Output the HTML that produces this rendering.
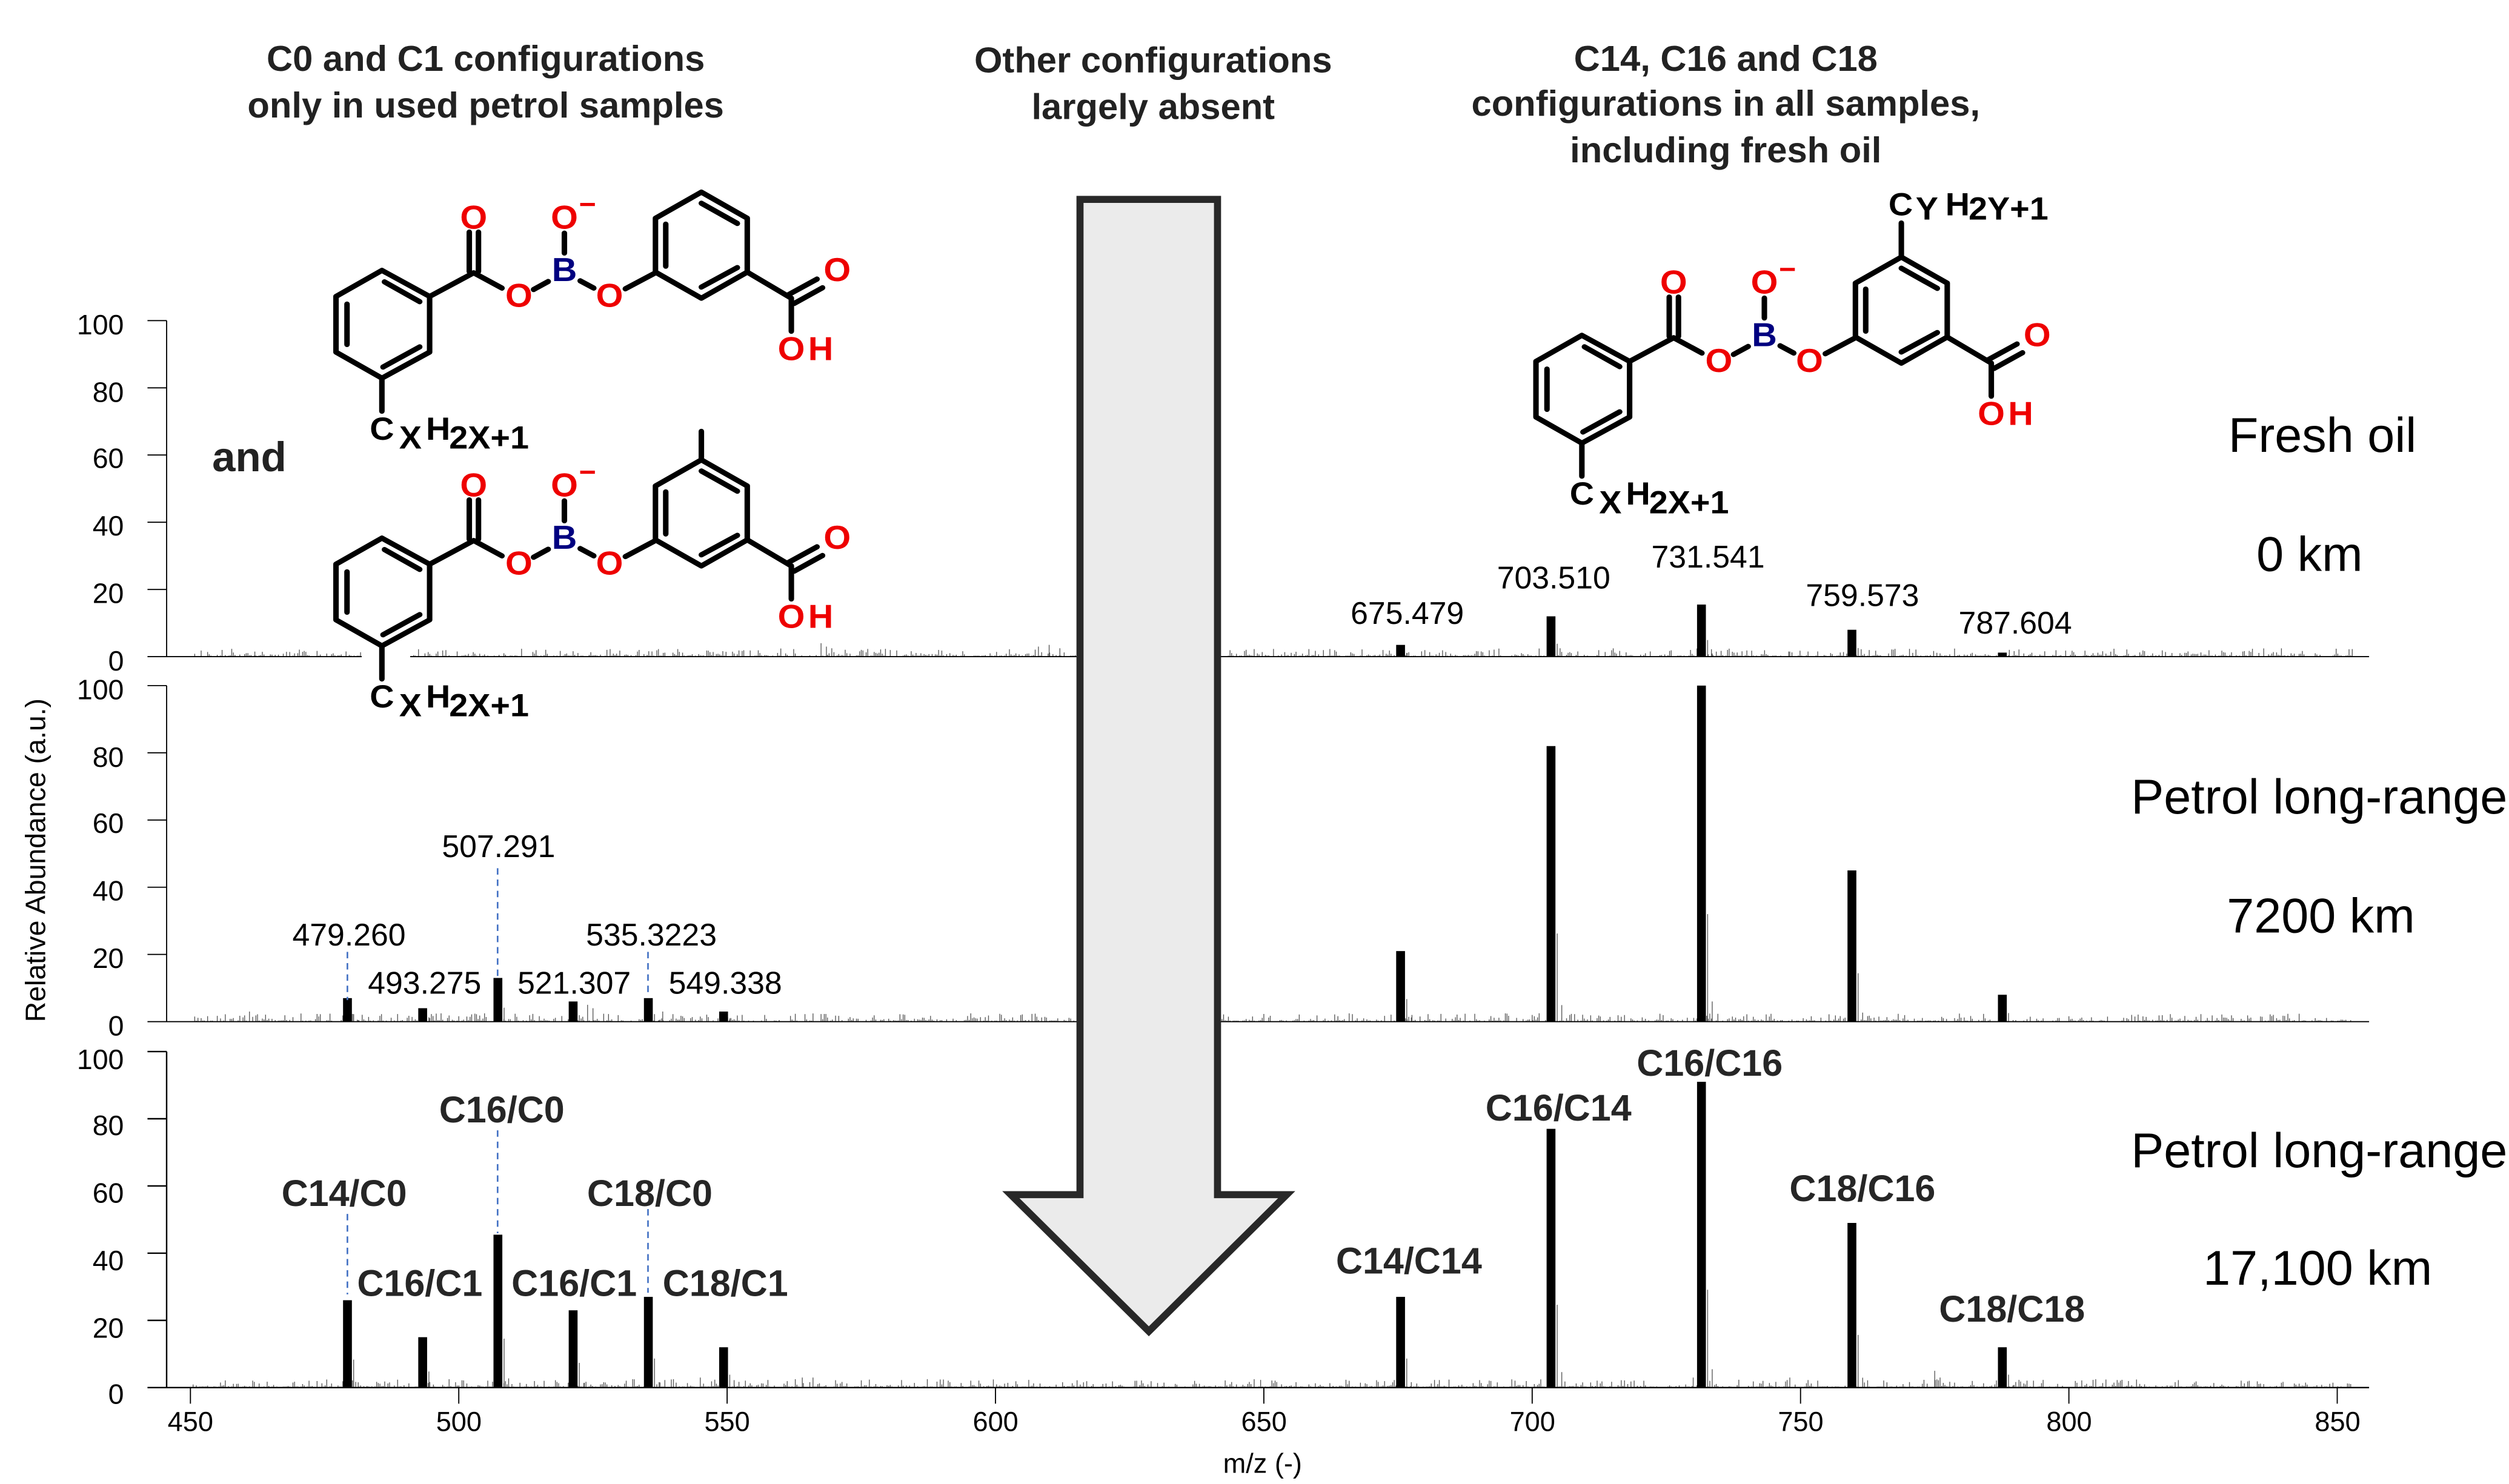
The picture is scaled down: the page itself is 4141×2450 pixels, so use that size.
<!DOCTYPE html>
<html><head><meta charset="utf-8"><style>
html,body{margin:0;padding:0;background:#fff;}
svg{display:block;}
text{font-family:"Liberation Sans",Arial,sans-serif;}
</style></head><body>
<svg id="s" xmlns="http://www.w3.org/2000/svg" width="4141" height="2450" viewBox="0 0 4141 2450">
<rect width="4141" height="2450" fill="#fff"/>
<g id="d" transform="scale(2.6545)">
  <g font-weight="bold" font-size="22.5" fill="#222" text-anchor="middle">
    <text x="302" y="44">C0 and C1 configurations</text>
    <text x="302" y="73">only in used petrol samples</text>
    <text x="717" y="45">Other configurations</text>
    <text x="717" y="74">largely absent</text>
    <text x="1073" y="44">C14, C16 and C18</text>
    <text x="1073" y="72">configurations in all samples,</text>
    <text x="1073" y="101">including fresh oil</text>
  </g>
  <text x="155" y="293" font-weight="bold" font-size="26" fill="#222" text-anchor="middle">and</text>
  <g font-size="17.5" fill="#000" text-anchor="end">
    <text x="77" y="208">100</text><text x="77" y="250">80</text><text x="77" y="291">60</text><text x="77" y="333">40</text><text x="77" y="375">20</text><text x="77" y="417">0</text>
    <text x="77" y="435">100</text><text x="77" y="477">80</text><text x="77" y="518">60</text><text x="77" y="560">40</text><text x="77" y="602">20</text><text x="77" y="644">0</text>
    <text x="77" y="665">100</text><text x="77" y="706">80</text><text x="77" y="748">60</text><text x="77" y="790">40</text><text x="77" y="832">20</text><text x="77" y="873">0</text>
  </g>
  <text transform="translate(28,535) rotate(-90)" font-size="17.5" text-anchor="middle" fill="#000">Relative Abundance (a.u.)</text>
  <g font-size="17" fill="#000" text-anchor="middle">
    <text x="118.4" y="890">450</text><text x="285.3" y="890">500</text><text x="452.1" y="890">550</text><text x="619" y="890">600</text><text x="785.9" y="890">650</text><text x="952.8" y="890">700</text><text x="1119.6" y="890">750</text><text x="1286.5" y="890">800</text><text x="1453.4" y="890">850</text>
    <text x="785" y="916">m/z (-)</text>
  </g>
  <g id="plot"></g>
  <path d="M671.5,124 L757,124 L757,743 L800,743 L714.3,828 L628.5,743 L671.5,743 Z" fill="#ebebeb" stroke="#282828" stroke-width="4.4" stroke-linejoin="miter"/>
  <g stroke="#4472c4" stroke-width="1" stroke-dasharray="4,3" fill="none">
    <path d="M216,592 V622 M309.4,540 V608 M402.9,592 V620"/>
    <path d="M216,755 V805 M309.4,703 V767 M402.9,752 V804"/>
  </g>
  <g font-size="19.5" fill="#000" text-anchor="middle">
    <text x="875" y="388">675.479</text><text x="966" y="366">703.510</text><text x="1062" y="353">731.541</text><text x="1158" y="377">759.573</text><text x="1253" y="394">787.604</text>
    <text x="217" y="588">479.260</text><text x="264" y="618">493.275</text><text x="310" y="533">507.291</text><text x="357" y="618">521.307</text><text x="405" y="588">535.3223</text><text x="451" y="618">549.338</text>
  </g>
  <g font-size="23" font-weight="bold" fill="#262626" text-anchor="middle">
    <text x="214" y="750">C14/C0</text><text x="312" y="698">C16/C0</text><text x="404" y="750">C18/C0</text>
    <text x="261" y="806">C16/C1</text><text x="357" y="806">C16/C1</text><text x="451" y="806">C18/C1</text>
    <text x="876" y="792">C14/C14</text><text x="969" y="697">C16/C14</text><text x="1063" y="669">C16/C16</text><text x="1158" y="747">C18/C16</text><text x="1251" y="822">C18/C18</text>
  </g>
  <g font-size="30.5" fill="#000" text-anchor="middle">
    <text x="1444" y="281">Fresh oil</text><text x="1436" y="355">0 km</text>
    <text x="1442" y="506">Petrol long-range</text><text x="1443" y="580">7200 km</text>
    <text x="1442" y="726">Petrol long-range</text><text x="1441" y="799">17,100 km</text>
  </g>
</g>
<rect x="597" y="1062" width="80" height="34" fill="#fff"/>
<g transform="translate(500,300) scale(0.60606,0.57405)" stroke-linecap="round" stroke-linejoin="round">
  <g>
    <path fill="none" stroke="#000" stroke-width="15" d="M215,255 L345,330 L345,490 L215,565 L90,490 L90,330 Z M222,288 L318,345 M218,533 L318,475 M120,352 L120,468 M215,565 L215,660 M345,330 L465,262 M453,258 L453,145 M478,258 L478,145 M465,262 L542,306 M628,310 L668,287 M712,205 L712,148 M755,285 L792,306 M878,308 L960,262 M1085,30 L1210,105 L1210,260 L1085,335 L960,260 L960,105 Z M1085,62 L1183,120 M1085,303 L1183,247 M988,122 L988,243 M1210,260 L1330,335 M1330,335 L1330,430 M1322,325 L1400,280 M1338,350 L1415,305"/>
    <g font-weight="bold" font-size="95" text-anchor="middle">
      <text x="465" y="135" fill="#e00">O</text><text x="588" y="360" fill="#e00">O</text><text x="712" y="286" fill="#000080">B</text><text x="712" y="135" fill="#e00">O</text><text x="835" y="360" fill="#e00">O</text><text x="1455" y="286" fill="#e00">O</text><text x="1330" y="513" fill="#e00">O</text><text x="1410" y="513" fill="#e00">H</text>
    </g>
    <rect x="755" y="61" width="40" height="9" fill="#e00"/>
    <g font-weight="bold" font-size="92" fill="#000"><text x="182" y="742">C</text><text x="262" y="767">X</text><text x="335" y="742">H</text><text x="398" y="767">2X+1</text></g>
  </g>
  <g transform="translate(0,770)">
    <path fill="none" stroke="#000" stroke-width="15" d="M215,255 L345,330 L345,490 L215,565 L90,490 L90,330 Z M222,288 L318,345 M218,533 L318,475 M120,352 L120,468 M215,565 L215,660 M345,330 L465,262 M453,258 L453,145 M478,258 L478,145 M465,262 L542,306 M628,310 L668,287 M712,205 L712,148 M755,285 L792,306 M878,308 L960,262 M1085,30 L1210,105 L1210,260 L1085,335 L960,260 L960,105 Z M1085,62 L1183,120 M1085,303 L1183,247 M988,122 L988,243 M1210,260 L1330,335 M1330,335 L1330,430 M1322,325 L1400,280 M1338,350 L1415,305 M1085,30 L1085,-52"/>
    <g font-weight="bold" font-size="95" text-anchor="middle">
      <text x="465" y="135" fill="#e00">O</text><text x="588" y="360" fill="#e00">O</text><text x="712" y="286" fill="#000080">B</text><text x="712" y="135" fill="#e00">O</text><text x="835" y="360" fill="#e00">O</text><text x="1455" y="286" fill="#e00">O</text><text x="1330" y="513" fill="#e00">O</text><text x="1410" y="513" fill="#e00">H</text>
    </g>
    <rect x="755" y="61" width="40" height="9" fill="#e00"/>
    <g font-weight="bold" font-size="92" fill="#000"><text x="182" y="742">C</text><text x="262" y="767">X</text><text x="335" y="742">H</text><text x="398" y="767">2X+1</text></g>
  </g>
</g>
<g transform="translate(2480.5,-34.8) scale(0.60606,0.57405)" stroke-linecap="round" stroke-linejoin="round">
  <g transform="translate(0,770)">
    <path fill="none" stroke="#000" stroke-width="15" d="M215,255 L345,330 L345,490 L215,565 L90,490 L90,330 Z M222,288 L318,345 M218,533 L318,475 M120,352 L120,468 M215,565 L215,660 M345,330 L465,262 M453,258 L453,145 M478,258 L478,145 M465,262 L542,306 M628,310 L668,287 M712,205 L712,148 M755,285 L792,306 M878,308 L960,262 M1085,30 L1210,105 L1210,260 L1085,335 L960,260 L960,105 Z M1085,62 L1183,120 M1085,303 L1183,247 M988,122 L988,243 M1210,260 L1330,335 M1330,335 L1330,430 M1322,325 L1400,280 M1338,350 L1415,305 M1085,30 L1085,-68"/>
    <g font-weight="bold" font-size="95" text-anchor="middle">
      <text x="465" y="135" fill="#e00">O</text><text x="588" y="360" fill="#e00">O</text><text x="712" y="286" fill="#000080">B</text><text x="712" y="135" fill="#e00">O</text><text x="835" y="360" fill="#e00">O</text><text x="1455" y="286" fill="#e00">O</text><text x="1330" y="513" fill="#e00">O</text><text x="1410" y="513" fill="#e00">H</text>
    </g>
    <rect x="755" y="61" width="40" height="9" fill="#e00"/>
    <g font-weight="bold" font-size="92" fill="#000"><text x="182" y="742">C</text><text x="262" y="767">X</text><text x="335" y="742">H</text><text x="398" y="767">2X+1</text></g>
  </g>
  <g font-weight="bold" font-size="92" fill="#000"><text x="1050" y="680">C</text><text x="1124" y="692">Y</text><text x="1205" y="680">H</text><text x="1268" y="692">2Y+1</text></g>
</g>
<script>
(function(){
var NS="http://www.w3.org/2000/svg",g=document.getElementById("plot");
function X(m){return 118.4+(m-450)*3.337;}
function el(n,a){var e=document.createElementNS(NS,n);for(var k in a)e.setAttribute(k,a[k]);g.appendChild(e);return e;}
var B=[408.4,635.4,863],U=2.09;
var seed=12345;function r(){seed=(seed*1103515245+12345)%2147483648;return seed/2147483648;}
var extra=[[[567.5,4],[568.5,3],[569.5,2.5],[608,3],[610,3.5],[612,2.5],[462,1.5],[748,1.5]],[[461,3],[524,5],[525,4],[538,3],[557,2],[700,2]],[[564,3],[566,3],[775,5],[776,3],[748,3],[805,2.5],[730,3],[540,2.5],[545,3]]];
var peaks=[[[675.479,3.5],[703.51,12],[731.541,15.5],[759.573,8],[787.604,1.2]],
[[479.26,7],[493.275,4],[507.291,13],[521.307,6],[535.322,7],[549.338,3],[675.479,21],[703.51,82],[731.541,100],[759.573,45],[787.604,8]],
[[479.26,26],[493.275,15],[507.291,45.5],[521.307,23],[535.322,27],[549.338,12],[675.479,27],[703.51,77],[731.541,91],[759.573,49],[787.604,12]]];
for(var p=0;p<3;p++){
  var b=B[p],top=b-100*U;
  var d="";
  for(var m=450.5;m<853;m+=0.3){ if(r()<0.6){var h=0.3+Math.pow(r(),3)*2.2; d+="M"+X(m).toFixed(2)+","+b+"V"+(b-h*U).toFixed(2);} }
  extra[p].forEach(function(e){d+="M"+X(e[0]).toFixed(2)+","+b+"V"+(b-e[1]*U).toFixed(2);});
  peaks[p].forEach(function(e){d+="M"+(X(e[0]+1)+0.5).toFixed(2)+","+b+"V"+(b-e[1]*0.32*U).toFixed(2);d+="M"+(X(e[0]+2)).toFixed(2)+","+b+"V"+(b-e[1]*0.06*U).toFixed(2);});
  el("path",{d:d,stroke:"#555",'stroke-width':0.5,fill:"none"});
  peaks[p].forEach(function(e){el("rect",{x:X(e[0])-2.75,y:b-e[1]*U,width:5.5,height:e[1]*U,fill:"#000"});});
  var a="M103.6,"+top+"V"+b+"M103.6,"+b+"H1473";
  for(var t=0;t<=100;t+=20)a+="M91.7,"+(b-t*U)+"H103.6";
  el("path",{d:a,stroke:"#000",'stroke-width':p==2?0.9:0.7,fill:"none"});
}
var t2="";for(var m=450;m<=850;m+=50)t2+="M"+X(m)+",863V873";
el("path",{d:t2,stroke:"#000",'stroke-width':0.7,fill:"none"});
el("rect",{x:225,y:400,width:30,height:12,fill:"#fff"});
})();
</script>
</svg>
</body></html>
